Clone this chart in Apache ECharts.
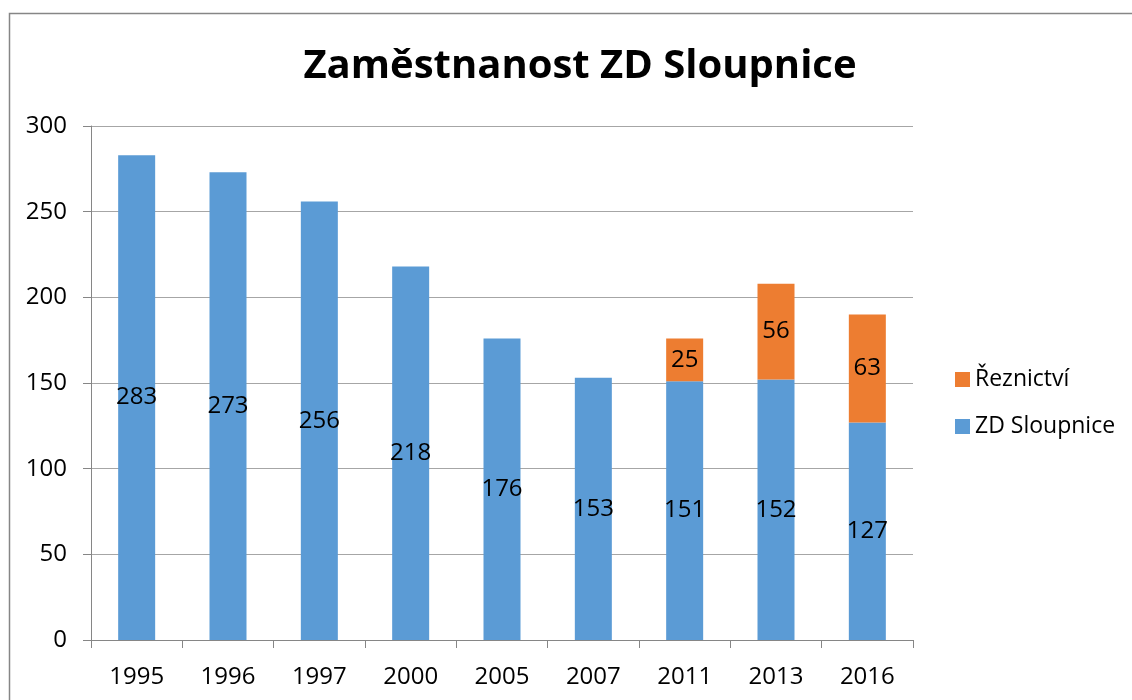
<!DOCTYPE html>
<html>
<head>
<meta charset="utf-8">
<script src="https://cdn.jsdelivr.net/npm/echarts@6/dist/echarts.min.js"></script>
<style>
  html, body { margin: 0; padding: 0; background: #fff; }
  #main { width: 1132px; height: 700px; }
</style>
</head>
<body>
<div id="main"></div>
<script>
var years = ['1995', '1996', '1997', '2000', '2005', '2007', '2011', '2013', '2016'];
var zdSloupnice = [283, 273, 256, 218, 176, 153, 151, 152, 127];
var reznictvi = [null, null, null, null, null, null, 25, 56, 63];
var yTicks = [0, 50, 100, 150, 200, 250, 300];

var chartDom = document.getElementById('main');
var myChart = echarts.init(chartDom);
var font = 'Open Sans';

var option = {
    backgroundColor: '#fff',
    animation: false,
    textStyle: { fontFamily: font },
    title: {
        text: 'Zaměstnanost ZD Sloupnice',
        left: 575,
        textAlign: 'center',
        top: 42,
        textStyle: { fontFamily: font, fontSize: 40, fontWeight: 'bold', color: '#000' }
    },
    legend: {
        data: ['Řeznictví', 'ZD Sloupnice'],
        orient: 'vertical',
        left: 955,
        top: 368,
        padding: 0,
        itemWidth: 15,
        itemHeight: 15,
        itemGap: 24,
        icon: 'rect',
        textStyle: { fontFamily: font, fontSize: 23, color: '#000' }
    },
    grid: { left: 91, right: 219, top: 126, bottom: 60 },
    xAxis: {
        type: 'category',
        data: years,
        axisLine: { lineStyle: { color: '#868686', width: 1 } },
        axisTick: { show: true, length: 8, lineStyle: { color: '#868686' } },
        axisLabel: { color: '#000', fontSize: 24, margin: 25, fontFamily: font }
    },
    yAxis: {
        type: 'value',
        min: yTicks[0],
        max: yTicks[yTicks.length - 1],
        interval: 50,
        axisLine: { show: true, lineStyle: { color: '#868686' } },
        axisTick: { show: true, length: 8, lineStyle: { color: '#868686' } },
        splitLine: { lineStyle: { color: '#a6a6a6' } },
        axisLabel: { color: '#000', fontSize: 24, margin: 24, fontFamily: font }
    },
    series: [
        {
            name: 'ZD Sloupnice',
            type: 'bar',
            stack: 'total',
            barWidth: 37,
            itemStyle: { color: '#5B9BD5' },
            label: { show: true, position: 'inside', color: '#000', fontSize: 24, fontFamily: font },
            data: zdSloupnice
        },
        {
            name: 'Řeznictví',
            type: 'bar',
            stack: 'total',
            barWidth: 37,
            itemStyle: { color: '#ED7D31' },
            label: { show: true, position: 'inside', color: '#000', fontSize: 24, fontFamily: font },
            data: reznictvi
        }
    ],
    graphic: [
        {
            type: 'rect',
            shape: { x: 9.5, y: 13.5, width: 1200, height: 800 },
            style: { fill: 'none', stroke: '#868686', lineWidth: 1.5 },
            silent: true
        }
    ]
};

myChart.setOption(option);
</script>
</body>
</html>
